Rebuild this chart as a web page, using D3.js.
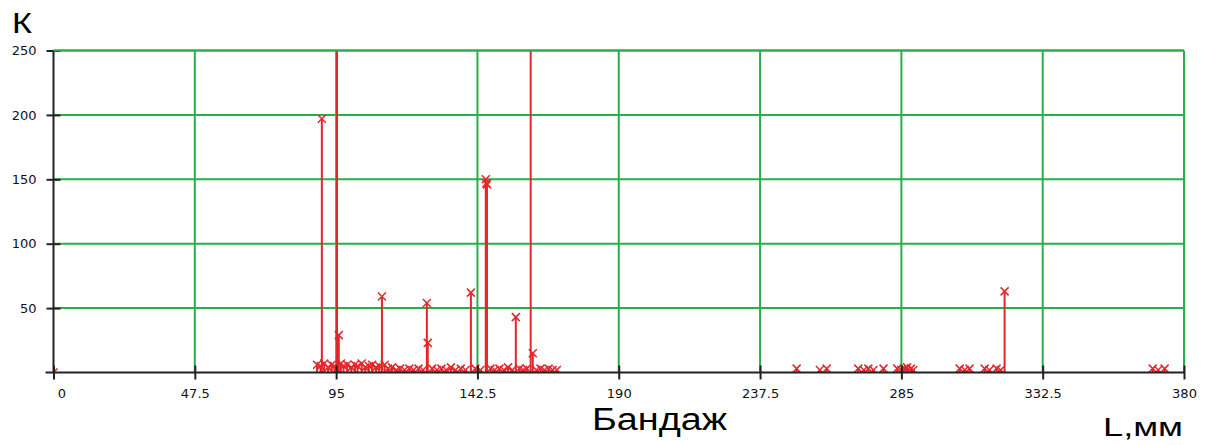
<!DOCTYPE html>
<html>
<head>
<meta charset="utf-8">
<script src="https://cdn.jsdelivr.net/npm/d3@7"></script>
<style>
  body { margin: 0; background: #fff; }
  .tick text { font-family: "DejaVu Sans", sans-serif; font-size: 13px; fill: #111; }
</style>
</head>
<body>
<div class="chart"></div>
<script>
// ticks
var xTicks = [0, 47.5, 95, 142.5, 190, 237.5, 285, 332.5, 380];
var yTicks = [50, 100, 150, 200, 250];

// big stems (values above 250 are cut by the frame)
var peakL = [90.2, 95.3, 95.9, 110.4, 125.5, 125.8, 140.3, 145.3, 145.5, 145.7, 155.4, 160.4, 161.1, 319.7];
var peakK = [197, 300, 29, 59, 54, 23, 62, 150, 147, 146, 43, 300, 15, 63];

// small stems near the axis
var smallL = [0, 88.6, 89.8, 91.0, 92.3, 93.5, 94.4, 96.6, 97.5, 98.7, 100.1, 101.3, 102.2, 103.6,
  104.8, 106.0, 107.1, 108.4, 109.5, 111.3, 112.4, 113.8, 115.2, 116.5, 118.0, 119.6, 121.0,
  122.7, 124.2, 127.3, 128.9, 130.4, 132.0, 133.6, 135.1, 136.9, 138.5, 141.8, 143.5, 146.9,
  148.3, 149.9, 151.4, 152.8, 154.2, 156.6, 157.9, 159.1, 162.3, 163.7, 165.0, 166.4, 167.8, 169.2,
  249.8, 257.6, 259.9, 270.5, 272.4, 273.9, 275.6, 279.0, 283.6, 285.0, 286.1, 286.9, 288.2, 289.0,
  304.6, 306.3, 307.9, 313.0, 314.6, 317.0, 318.4, 369.5, 371.3, 373.5];
var smallK = [0, 6, 5, 7, 4, 6, 5, 7, 5, 6, 4, 6, 5, 7,
  4, 5, 6, 4, 5, 6, 3, 4, 2, 3, 2, 3, 2,
  3, 2, 3, 2, 3, 2, 4, 2, 3, 2, 3, 2, 3,
  2, 3, 2, 4, 2, 3, 2, 3, 2, 3, 2, 3, 2, 2,
  3, 2, 3, 3, 2, 3, 2, 3, 3, 2, 3, 4, 3, 2,
  3, 2, 3, 3, 2, 3, 2, 3, 2, 3];

var width = 1212, height = 445;
var margin = {top: 50.5, right: 28, bottom: 72.5, left: 53.5};
var w = width - margin.left - margin.right,
    h = height - margin.top - margin.bottom;

var green = "#2aae4c", red = "#e3262b";

var svg = d3.select(".chart").append("svg")
  .attr("width", width)
  .attr("height", height);

var g = svg.append("g")
  .attr("transform", "translate(" + margin.left + "," + margin.top + ")");

var x = d3.scaleLinear().domain([0, 380]).range([0, w]);
var y = d3.scaleLinear().domain([0, 250]).range([h, 0]);

g.append("clipPath").attr("id", "plot")
  .append("rect").attr("x", 0).attr("y", 0).attr("width", w).attr("height", h);

// green grid
g.selectAll("line.vgrid")
  .data(xTicks.slice(1))
  .enter().append("line")
  .attr("x1", function(d) { return x(d); })
  .attr("x2", function(d) { return x(d); })
  .attr("y1", 0).attr("y2", h)
  .attr("stroke", green).attr("stroke-width", 2);

g.selectAll("line.hgrid")
  .data(yTicks)
  .enter().append("line")
  .attr("x1", 0).attr("x2", w)
  .attr("y1", function(d) { return y(d); })
  .attr("y2", function(d) { return y(d); })
  .attr("stroke", green).attr("stroke-width", 2);

// stems
var pts = [];
smallL.forEach(function(l, i) { pts.push({l: l, k: smallK[i]}); });
peakL.forEach(function(l, i) { pts.push({l: l, k: peakK[i]}); });

var marks = g.append("g").attr("clip-path", "url(#plot)");

marks.selectAll("line.stem")
  .data(pts)
  .enter().append("line")
  .attr("x1", function(d) { return x(d.l); })
  .attr("x2", function(d) { return x(d.l); })
  .attr("y1", h)
  .attr("y2", function(d) { return y(d.k); })
  .attr("stroke", red).attr("stroke-width", 2);

var s = 4;
marks.selectAll("path.mark")
  .data(pts.filter(function(d) { return d.k <= 250; }))
  .enter().append("path")
  .attr("d", function(d) {
    var cx = x(d.l), cy = y(d.k);
    return "M" + (cx - s) + "," + (cy - s) + "L" + (cx + s) + "," + (cy + s) +
      "M" + (cx - s) + "," + (cy + s) + "L" + (cx + s) + "," + (cy - s);
  })
  .attr("stroke", red).attr("stroke-width", 1.5).attr("fill", "none");

// axes
var xAxis = g.append("g")
  .attr("transform", "translate(0," + h + ")")
  .call(d3.axisBottom(x).tickValues(xTicks).tickSize(7).tickPadding(9).tickFormat(function(d) { return d; }));
xAxis.selectAll(".tick line").attr("y1", -7).attr("y2", 7).attr("stroke", "#222").attr("stroke-width", 2);
xAxis.select(".domain").attr("d", "M-8,0H" + w).attr("stroke", "#222").attr("stroke-width", 2);
xAxis.selectAll(".tick text").filter(function(d) { return d === 0; }).attr("dx", 8);

var yAxis = g.append("g")
  .call(d3.axisLeft(y).tickValues(yTicks).tickSize(7).tickPadding(10));
yAxis.selectAll(".tick line").attr("x1", -7).attr("x2", 7).attr("stroke", "#222").attr("stroke-width", 2);
yAxis.select(".domain").attr("d", "M0,0V" + h).attr("stroke", "#222").attr("stroke-width", 2);

// top frame
g.append("line").attr("x1", 0).attr("x2", w).attr("y1", 0).attr("y2", 0)
  .attr("stroke", green).attr("stroke-width", 2);

// labels
svg.append("text")
  .attr("x", 12).attr("y", 33)
  .attr("textLength", 20).attr("lengthAdjust", "spacingAndGlyphs")
  .style("font-family", "Liberation Sans, Arial, sans-serif")
  .style("font-size", "29px")
  .text("К");

svg.append("text")
  .attr("x", 592).attr("y", 430)
  .attr("textLength", 135).attr("lengthAdjust", "spacingAndGlyphs")
  .style("font-family", "Liberation Sans, Arial, sans-serif")
  .style("font-size", "31px")
  .text("Бандаж");

svg.append("text")
  .attr("x", 1103).attr("y", 436)
  .attr("textLength", 80).attr("lengthAdjust", "spacingAndGlyphs")
  .style("font-family", "Liberation Sans, Arial, sans-serif")
  .style("font-size", "25px")
  .text("L,мм");
</script>
</body>
</html>
